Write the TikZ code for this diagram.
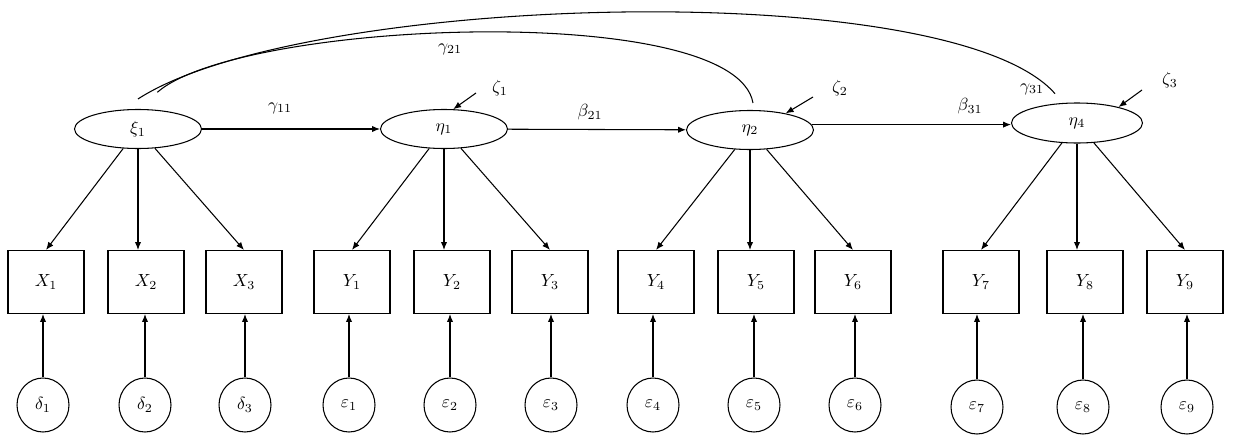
\documentclass[tikz,border=0pt]{standalone}
\usepackage{amsmath,amssymb}
\usetikzlibrary{shapes.geometric,arrows.meta}

\begin{document}
\begin{tikzpicture}[x=0.02cm, y=-0.02cm, >={Latex[length=4.5pt,width=3.6pt]},
    latent/.style={ellipse, draw, line width=0.6pt, minimum width=2.54cm, minimum height=0.78cm, inner sep=0pt, font=\normalsize},
    manifest/.style={rectangle, draw, line width=0.6pt, minimum width=1.52cm, minimum height=1.26cm, font=\normalsize},
    errvar/.style={ellipse, draw, line width=0.6pt, minimum width=1.04cm, minimum height=1.08cm, inner sep=0pt, font=\normalsize},
    arrow/.style={->, line width=0.6pt},
    cov/.style={line width=0.6pt},
    coef/.style={font=\normalsize, inner sep=1pt}]

\useasboundingbox (0,0) rectangle (1244,436);

% latent variables
\node [latent] (xi1) at (138,129) {$\xi_1$};
\node [latent] (eta1) at (444,129) {$\eta_1$};
\node [latent] (eta2) at (750,130) {$\eta_2$};
\node [latent, minimum width=2.62cm, minimum height=0.8cm] (eta4) at (1077,123) {$\eta_4$};

% indicators
\node [manifest] (x1) at (46,282) {$X_1$};
\node [manifest] (x2) at (146,282) {$X_2$};
\node [manifest] (x3) at (244,282) {$X_3$};
\node [manifest] (y1) at (352,282) {$Y_1$};
\node [manifest] (y2) at (452,282) {$Y_2$};
\node [manifest] (y3) at (550,282) {$Y_3$};
\node [manifest] (y4) at (656,282) {$Y_4$};
\node [manifest] (y5) at (756,282) {$Y_5$};
\node [manifest] (y6) at (853,282) {$Y_6$};
\node [manifest] (y7) at (981,282) {$Y_7$};
\node [manifest] (y8) at (1085,282) {$Y_8$};
\node [manifest] (y9) at (1185,282) {$Y_9$};

% measurement errors
\node [errvar] (d1) at (43,405) {$\delta_1$};
\node [errvar] (d2) at (145,405) {$\delta_2$};
\node [errvar] (d3) at (245,405) {$\delta_3$};
\node [errvar] (e1) at (349,405) {$\varepsilon_1$};
\node [errvar] (e2) at (450,405) {$\varepsilon_2$};
\node [errvar] (e3) at (551,405) {$\varepsilon_3$};
\node [errvar] (e4) at (653,405) {$\varepsilon_4$};
\node [errvar] (e5) at (754,405) {$\varepsilon_5$};
\node [errvar] (e6) at (855,405) {$\varepsilon_6$};
\node [errvar] (e7) at (977,407) {$\varepsilon_7$};
\node [errvar] (e8) at (1083,407) {$\varepsilon_8$};
\node [errvar] (e9) at (1187,407) {$\varepsilon_9$};

% coefficients and disturbances
\node [coef] (g11) at (280,108) {$\gamma_{11}$};
\node [coef] (b21) at (590,112) {$\beta_{21}$};
\node [coef] (b31) at (970,106) {$\beta_{31}$};
\node [coef] (g21) at (450,49) {$\gamma_{21}$};
\node [coef] (g31) at (1032,89) {$\gamma_{31}$};
\node [coef] (z1) at (500,88) {$\zeta_1$};
\node [coef] (z2) at (840,88) {$\zeta_2$};
\node [coef] (z3) at (1170,80) {$\zeta_3$};
\coordinate (z1s) at (476,93);
\coordinate (z2s) at (813,97);
\coordinate (z3s) at (1142,90);

% structural paths
\draw [arrow] (xi1) -- (eta1);
\draw [arrow] (eta1) -- (eta2);
\draw [arrow] (eta2.5) -- (eta4.west |- eta2.5);
\draw [cov] ([yshift=5.7pt]xi1.north) .. controls (300,-6) and (950,-26) .. ([xshift=-12.5pt,yshift=5pt]eta4.north);
\draw [cov] ([xshift=11pt,yshift=9.5pt]xi1.north) .. controls (240,20) and (735,0) .. ([xshift=1.7pt,yshift=4pt]eta2.north);
\draw [arrow] (z1s) -- (eta1.65);
\draw [arrow] (z2s) -- (eta2.25);
\draw [arrow] (z3s) -- (eta4.21);

% loadings
\draw [arrow] (xi1) -- (x1.north);
\draw [arrow] (xi1) -- (xi1 |- x2.north);
\draw [arrow] (xi1) -- (x3.north);
\draw [arrow] (eta1) -- (y1.north);
\draw [arrow] (eta1) -- (eta1 |- y2.north);
\draw [arrow] (eta1) -- (y3.north);
\draw [arrow] (eta2) -- (y4.north);
\draw [arrow] (eta2) -- (eta2 |- y5.north);
\draw [arrow] (eta2) -- (y6.north);
\draw [arrow] (eta4) -- (y7.north);
\draw [arrow] (eta4) -- (eta4 |- y8.north);
\draw [arrow] (eta4) -- (y9.north);

% errors
\draw [arrow] (d1) -- (d1 |- x1.south);
\draw [arrow] (d2) -- (d2 |- x2.south);
\draw [arrow] (d3) -- (d3 |- x3.south);
\draw [arrow] (e1) -- (e1 |- y1.south);
\draw [arrow] (e2) -- (e2 |- y2.south);
\draw [arrow] (e3) -- (e3 |- y3.south);
\draw [arrow] (e4) -- (e4 |- y4.south);
\draw [arrow] (e5) -- (e5 |- y5.south);
\draw [arrow] (e6) -- (e6 |- y6.south);
\draw [arrow] (e7) -- (e7 |- y7.south);
\draw [arrow] (e8) -- (e8 |- y8.south);
\draw [arrow] (e9) -- (e9 |- y9.south);

\end{tikzpicture}
\end{document}
